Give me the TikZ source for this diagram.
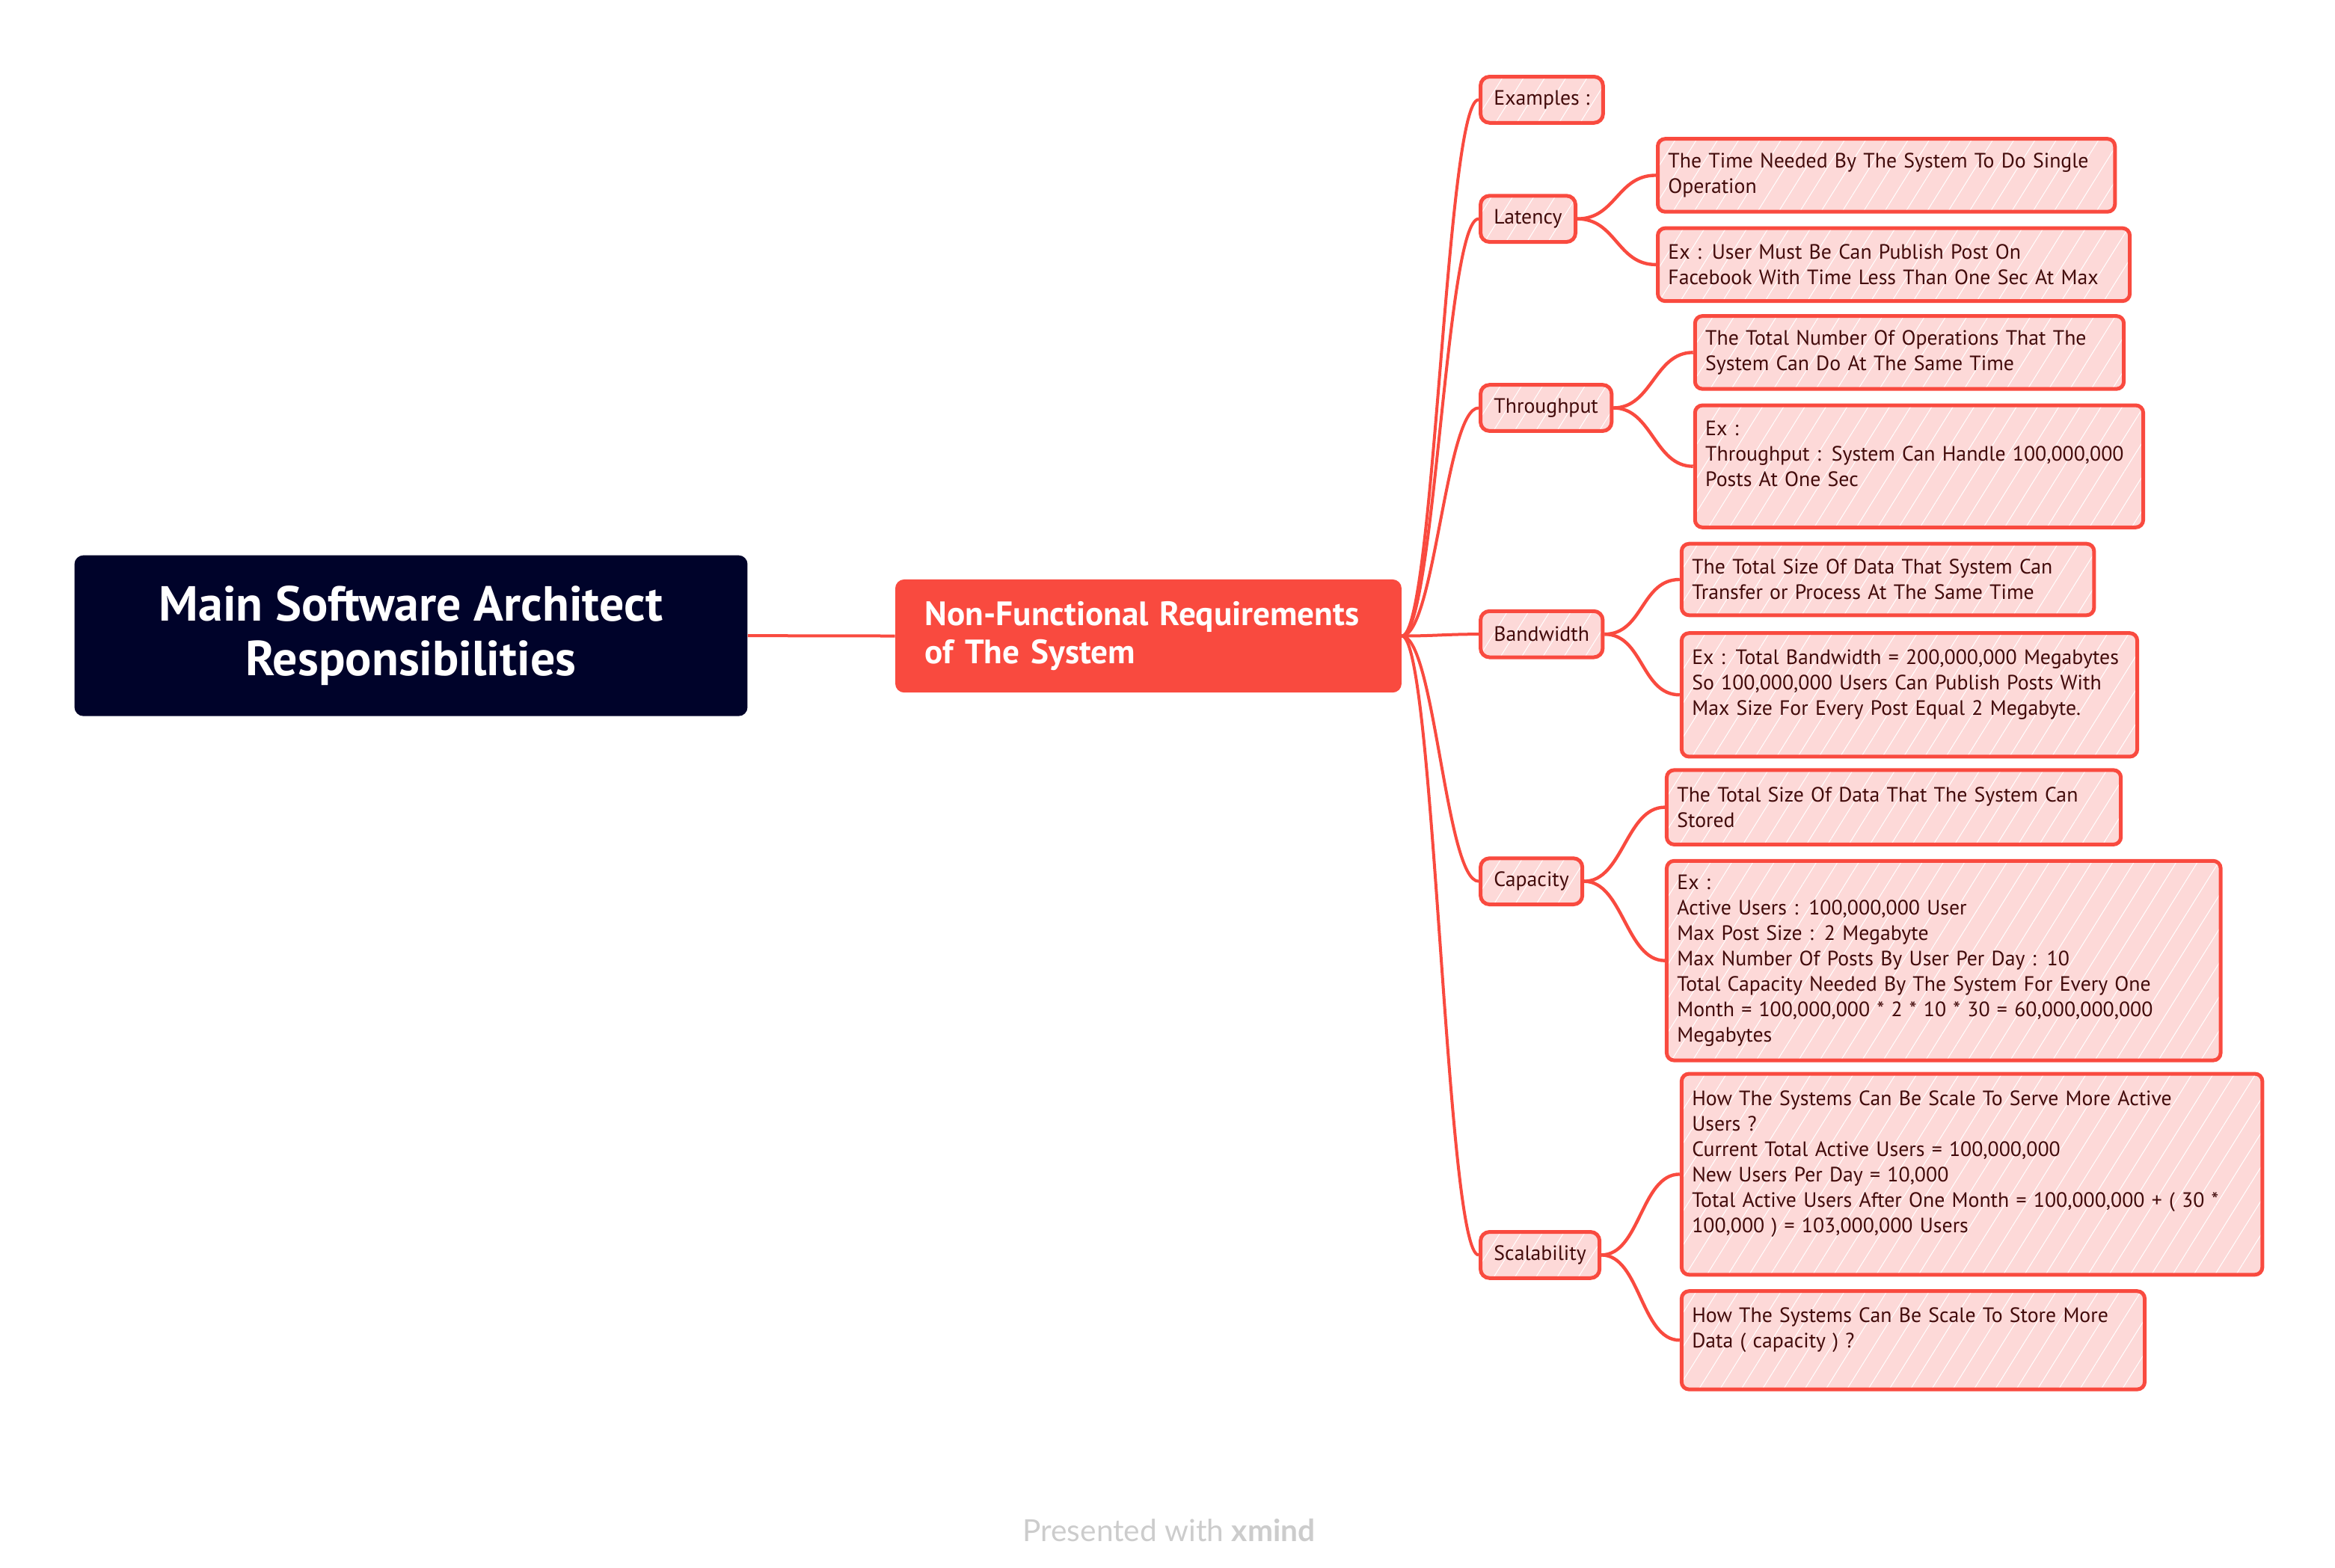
\documentclass[tikz,border=0pt]{standalone}
\usepackage{fontspec}
\setmainfont{PT Sans}
\newfontfamily\footfont{Lato}
\usetikzlibrary{patterns.meta}
\definecolor{xred}{HTML}{F94A3F}
\definecolor{xpink}{HTML}{FDD9D8}
\definecolor{xnavy}{HTML}{00032A}
\definecolor{xtext}{HTML}{420B0B}
\definecolor{xgray}{HTML}{CCCCCC}
\begin{document}
\begin{tikzpicture}[x=1bp,y=-1bp,
  hatch/.style={preaction={fill=xpink}, pattern={Lines[angle=58,distance=12bp,line width=0.5bp]}, pattern color=white},
  leaf/.style={hatch, draw=xred, line width=2.5bp, rounded corners=5bp, text=xtext,
    font=\fontsize{14}{17.07}\selectfont, align=left, inner xsep=7bp, inner ysep=0bp, anchor=north west},
  subtopic/.style={hatch, draw=xred, line width=2.5bp, rounded corners=6bp, text=xtext,
    font=\fontsize{14}{17}\selectfont, inner xsep=9bp, inner ysep=0bp, minimum height=31bp, anchor=west},
  conn/.style={draw=xred, line width=2bp},
  lconn/.style={draw=xred, line width=2.2bp}
]
\useasboundingbox (0,0) rectangle (1561,1048);
\begin{scope}[scale=0.9955, transform shape]
% root
\node[fill=xnavy, rounded corners=6bp, minimum width=452bp, minimum height=108bp, text=white,
  font=\bfseries\fontsize{33.2}{37.1}\selectfont, align=center] (root) at (276,427)
  {Main Software Architect\\Responsibilities};

% main topic
\node[fill=xred, rounded corners=6bp, minimum width=340bp, minimum height=76bp, text width=300bp,
  inner xsep=20bp, text=white, font=\bfseries\fontsize{22.8}{26.1}\selectfont, align=left, anchor=north west]
  (main) at (601,389) {Non-Functional Requirements\\of The System};

\draw[conn] (root.east) -- (main.west);

% subtopics
\node[subtopic] (ex) at (993,67) {Examples :};
\node[subtopic] (lat) at (993,147) {Latency};
\node[subtopic] (thr) at (993,274) {Throughput};
\node[subtopic] (bw) at (993,426) {Bandwidth};
\node[subtopic] (cap) at (993,592) {Capacity};
\node[subtopic] (sca) at (993,843) {Scalability};

\foreach \s in {ex,lat,thr,bw,cap,sca}
  \draw[conn] (main.east) .. controls +(22,0) and +(-22,0) .. (\s.west);

% leaves
\node[leaf, text width=293bp, minimum height=49bp] (l1) at (1112,92)
  {The Time Needed By The System To Do Single\\Operation};
\node[leaf, text width=303bp, minimum height=49bp] (l2) at (1112,152)
  {Ex : User Must Be Can Publish Post On\\Facebook With Time Less Than One Sec At Max};
\node[leaf, text width=274bp, minimum height=49bp] (t1) at (1137,211)
  {The Total Number Of Operations That The\\System Can Do At The Same Time};
\node[leaf, text width=287bp, minimum height=82bp] (t2) at (1137,271)
  {Ex :\\Throughput : System Can Handle 100,000,000\\Posts At One Sec\\~};
\node[leaf, text width=263bp, minimum height=48bp] (b1) at (1128,364)
  {The Total Size Of Data That System Can\\Transfer or Process At The Same Time};
\node[leaf, text width=292bp, minimum height=83bp] (b2) at (1128,424)
  {Ex : Total Bandwidth = 200,000,000 Megabytes\\So 100,000,000 Users Can Publish Posts With\\Max Size For Every Post Equal 2 Megabyte.\\~};
\node[leaf, text width=291bp, minimum height=50bp] (c1) at (1118,516)
  {The Total Size Of Data That The System Can\\Stored};
\node[leaf, text width=358bp, minimum height=134bp] (c2) at (1118,577)
  {Ex :\\Active Users : 100,000,000 User\\Max Post Size : 2 Megabyte\\Max Number Of Posts By User Per Day : 10\\Total Capacity Needed By The System For Every One\\Month = 100,000,000 * 2 * 10 * 30 = 60,000,000,000\\Megabytes};
\node[leaf, text width=376bp, minimum height=135bp] (s1) at (1128,720)
  {How The Systems Can Be Scale To Serve More Active\\Users ?\\Current Total Active Users = 100,000,000\\New Users Per Day = 10,000\\Total Active Users After One Month = 100,000,000 + ( 30 *\\100,000 ) = 103,000,000 Users\\~};
\node[leaf, text width=297bp, minimum height=66bp] (s2) at (1128,866)
  {How The Systems Can Be Scale To Store More\\Data ( capacity ) ?\\~};

\foreach \a/\b in {lat/l1,lat/l2,thr/t1,thr/t2,bw/b1,bw/b2,cap/c1,cap/c2,sca/s1,sca/s2}
  \draw[lconn] (\a.east) .. controls +(26,0) and +(-26,0) .. (\b.west);

% footer
\node[text=xgray, font=\footfont\fontsize{20.5}{24}\selectfont] (foot) at (785,1028)
  {Presented with {\bfseries xmind}};
\end{scope}
\end{tikzpicture}
\end{document}
